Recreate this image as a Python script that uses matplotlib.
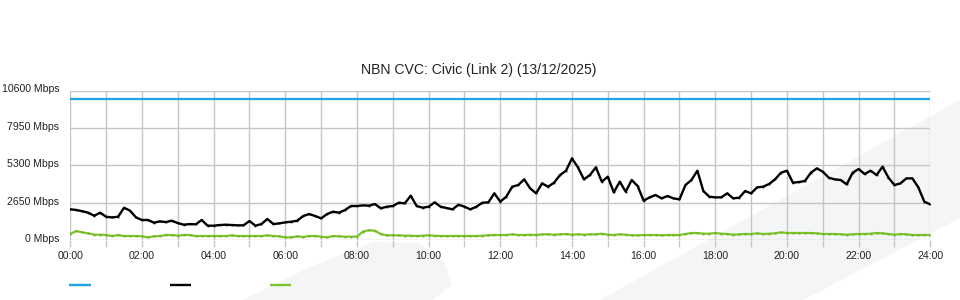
import numpy as np
import matplotlib
matplotlib.use("Agg")
import matplotlib.pyplot as plt
from matplotlib.lines import Line2D
from matplotlib.patches import Polygon
from matplotlib.transforms import ScaledTranslation

plt.rcParams['font.family'] = ['Liberation Sans', 'DejaVu Sans']

title = "NBN CVC: Civic (Link 2) (13/12/2025)"
y_ticks = [0, 2650, 5300, 7950, 10600]
y_labels = ["0 Mbps", "2650 Mbps", "5300 Mbps", "7950 Mbps", "10600 Mbps"]
x_ticks = [0, 2, 4, 6, 8, 10, 12, 14, 16, 18, 20, 22, 24]
x_labels = ["00:00", "02:00", "04:00", "06:00", "08:00", "10:00", "12:00",
            "14:00", "16:00", "18:00", "20:00", "22:00", "24:00"]

capacity = [10000, 10000]

# traffic, 10-minute samples from 00:00 to 24:00 (Mbps)
traffic_black = [
    2175, 2130, 2040, 1935, 1720, 1935,
    1650, 1600, 1650, 2290, 2080, 1600,
    1417, 1417, 1230, 1320, 1270, 1370,
    1200, 1086, 1130, 1110, 1417, 1015,
    1015, 1060, 1086, 1060, 1040, 1040,
    1345, 1015, 1130, 1490, 1130, 1180,
    1250, 1295, 1370, 1700, 1840, 1700,
    1535, 1842, 2008, 1937, 2126, 2409,
    2409, 2456, 2433, 2550, 2244, 2362,
    2409, 2645, 2598, 3141, 2409, 2291,
    2362, 2669, 2362, 2267, 2173, 2504,
    2362, 2173, 2362, 2645, 2669, 3307,
    2716, 3071, 3779, 3897, 4299, 3661,
    3307, 4015, 3779, 4063, 4606, 4913,
    5787, 5149, 4299, 4606, 5149, 4134,
    4488, 3378, 4134, 3425, 4252, 3826,
    2787, 3023, 3189, 2952, 3118, 2952,
    2882, 3897, 4252, 4913, 3472, 3071,
    3023, 3023, 3307, 2952, 3000, 3472,
    3307, 3732, 3779, 3968, 4299, 4771,
    4913, 4063, 4110, 4181, 4771, 5078,
    4842, 4417, 4299, 4252, 3945, 4771,
    5031, 4677, 4913, 4606, 5196, 4417,
    3897, 4015, 4370, 4370, 3732, 2716,
    2527,
]

traffic_green = [
    425, 638, 543, 472, 378, 378,
    354, 283, 354, 283, 283, 283,
    260, 189, 260, 283, 354, 354,
    307, 354, 354, 283, 283, 283,
    283, 283, 283, 330, 283, 283,
    283, 283, 283, 330, 283, 260,
    189, 189, 260, 212, 283, 283,
    236, 189, 283, 260, 236, 236,
    236, 600, 685, 660, 420, 330,
    330, 330, 307, 307, 283, 307,
    330, 307, 283, 283, 283, 283,
    283, 283, 283, 307, 330, 354,
    354, 354, 401, 354, 354, 378,
    354, 401, 401, 378, 401, 425,
    378, 401, 378, 401, 401, 449,
    378, 354, 401, 378, 330, 330,
    354, 354, 354, 330, 354, 354,
    354, 425, 496, 496, 449, 449,
    496, 449, 425, 378, 401, 425,
    425, 472, 425, 449, 472, 543,
    496, 496, 496, 496, 496, 472,
    425, 425, 425, 401, 378, 401,
    425, 425, 449, 496, 472, 425,
    378, 425, 401, 354, 354, 354,
    354,
]

BLUE = '#1fa5e6'
BLACK = '#000000'
GREEN = '#7cc42c'
TEXT = '#222222'
GRID = '#c6c6c6'

W, H = 960, 300
fig = plt.figure(figsize=(W / 100, H / 100), dpi=100)
fig.patch.set_facecolor('white')

def fpt(x, y):
    return (x / W, 1 - y / H)

# faint background watermark shapes
wm = '#f4f5f7'
shape1 = [fpt(243, 300), fpt(310, 267), fpt(373, 242), fpt(420, 243),
          fpt(445, 263), fpt(452, 285), fpt(432, 300)]
shape2 = [fpt(600, 300), fpt(960, 100), fpt(960, 218), fpt(803, 300)]
for s in (shape1, shape2):
    fig.patches.append(Polygon(s, closed=True, transform=fig.transFigure,
                               facecolor=wm, edgecolor='none', zorder=-5))

left, right, top, bottom = 70.3, 930.3, 90.5, 240.0
ax = fig.add_axes([left / W, 1 - bottom / H, (right - left) / W, (bottom - top) / H])
ax.set_facecolor('none')
ax.set_zorder(2)

t_black = np.arange(len(traffic_black)) / 6.0
t_green = np.arange(len(traffic_green)) / 6.0
t_cap = [0, 24]

ax.set_xlim(0, 24)
ax.set_ylim(0, 10600)

# grid
for h in range(25):
    ax.axvline(h, color=GRID, lw=1.0, zorder=1)
for v in y_ticks:
    ax.axhline(v, color=GRID, lw=1.0, zorder=1)

ax.plot(t_cap, capacity, color=BLUE, lw=1.6, zorder=3, solid_capstyle='butt')
ax.plot(t_green, traffic_green, color=GREEN, lw=1.6, zorder=3,
        marker='s', markersize=1.3, markerfacecolor='#6aaf22', markeredgewidth=0)
ax.plot(t_black, traffic_black, color=BLACK, lw=1.7, zorder=4,
        marker='s', markersize=1.2, markeredgewidth=0)

ax.set_xticks(x_ticks)
ax.set_xticklabels(x_labels)
ax.set_yticks(y_ticks)
ax.set_yticklabels(y_labels)
ax.tick_params(axis='x', length=5, width=1, color=GRID, labelsize=7.6,
               labelcolor=TEXT, pad=3)
ax.tick_params(axis='y', length=0, labelsize=7.6, labelcolor=TEXT, pad=8)
ax.set_xticks(range(25), minor=True)
ax.tick_params(axis='x', which='minor', length=5, width=1, color=GRID)

shift = ScaledTranslation(0, 2 / 100, fig.dpi_scale_trans)
for lab in ax.get_yticklabels():
    lab.set_transform(lab.get_transform() + shift)

for sp in ax.spines.values():
    sp.set_visible(False)

fig.text(479 / W, 1 - 70 / H, title, ha='center', va='center',
         fontsize=10.1, color=TEXT)

# legend swatches (labels not shown in the reference)
for x0, c in ((69.3, BLUE), (169.7, BLACK), (269.7, GREEN)):
    fig.add_artist(Line2D([x0 / W, (x0 + 21.5) / W], [1 - 285 / H, 1 - 285 / H],
                          transform=fig.transFigure, color=c, lw=1.7,
                          solid_capstyle='butt'))

fig.savefig('out.png', dpi=100)
